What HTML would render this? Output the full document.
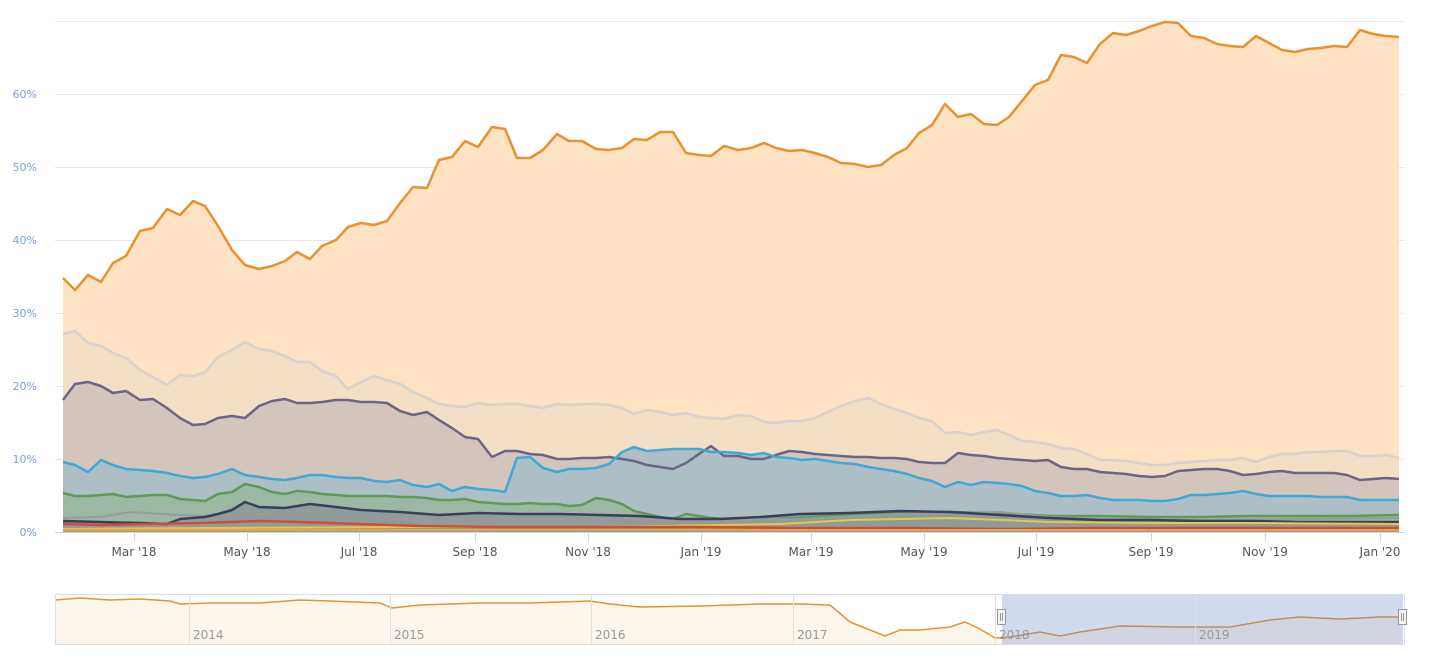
<!DOCTYPE html>
<html><head><meta charset="utf-8"><style>
html,body{margin:0;padding:0;background:#fff;}
svg{display:block;font-family:"DejaVu Sans","Liberation Sans",sans-serif;}
</style></head><body>
<svg width="1438" height="662" viewBox="0 0 1438 662" xmlns="http://www.w3.org/2000/svg">
<g stroke="#e6e6e6" stroke-width="1">
<line x1="55" y1="21.5" x2="1405" y2="21.5"/><line x1="55" y1="94.5" x2="1405" y2="94.5"/>
<line x1="55" y1="167.5" x2="1405" y2="167.5"/><line x1="55" y1="240.5" x2="1405" y2="240.5"/>
<line x1="55" y1="313.5" x2="1405" y2="313.5"/><line x1="55" y1="386.5" x2="1405" y2="386.5"/>
<line x1="55" y1="459.5" x2="1405" y2="459.5"/>
</g>
<g fill="#7aa2d6" font-size="11" text-anchor="end">
<text x="37" y="98">60%</text><text x="37" y="171">50%</text><text x="37" y="244">40%</text>
<text x="37" y="317">30%</text><text x="37" y="390">20%</text><text x="37" y="463">10%</text><text x="37" y="536">0%</text>
</g>
<polygon fill="#fde2c3" points="63,532 63,278 75,290 88,275 101,282 113,263 126,256 140,231 153,228 167,209 180,215 193,201 205,206 218,226 232,250 245,265 259,269 272,266 285,261 297,252 310,259 322,246 336,240 348,227 361,223 374,225 387,221 400,203 413,187 427,188 439,160 452,157 465,141 478,147 492,127 505,129 517,158 530,158 543,150 557,134 569,141 582,141 596,149 609,150 622,148 634,139 647,140 660,132 673,132 686,153 699,155 711,156 724,146 738,150 751,148 764,143 776,148 789,151 802,150 815,153 828,157 841,163 855,164 868,167 881,165 894,155 907,148 919,133 932,125 945,104 958,117 971,114 984,124 997,125 1009,117 1022,101 1035,85 1048,80 1061,55 1074,57 1087,63 1100,44 1113,33 1126,35 1139,31 1152,26 1165,22 1178,23 1191,36 1204,38 1217,44 1230,46 1243,47 1256,36 1269,43 1282,50 1295,52 1308,49 1321,48 1334,46 1347,47 1360,30 1373,34 1386,36 1399,37 1399,532"/>
<polygon fill="#f3dfc6" points="63,532 63,334 75,331 88,343 101,346 113,353 126,358 140,370 153,377 167,385 180,375 193,376 205,372 218,357 232,350 245,342 259,349 272,351 285,356 297,362 310,362 322,371 336,376 348,389 361,382 374,376 387,380 400,384 413,392 427,398 439,404 452,406 465,407 478,403 492,405 505,404 517,404 530,406 543,408 557,404 569,405 582,404 596,404 609,405 622,408 634,414 647,410 660,412 673,415 686,413 699,417 711,418 724,419 738,415 751,416 764,422 776,423 789,421 802,421 815,418 828,412 841,406 855,401 868,398 881,404 894,409 907,413 919,418 932,421 945,433 958,432 971,435 984,432 997,430 1009,435 1022,441 1035,442 1048,444 1061,448 1074,449 1087,454 1100,460 1113,460 1126,461 1139,463 1152,465 1165,465 1178,463 1191,462 1204,461 1217,460 1230,460 1243,458 1256,462 1269,457 1282,454 1295,454 1308,452 1321,452 1334,451 1347,451 1360,456 1373,456 1386,455 1399,458 1399,532"/>
<polygon fill="#d3c5bb" points="63,532 63,400 75,384 88,382 101,386 113,393 126,391 140,400 153,399 167,408 180,418 193,425 205,424 218,418 232,416 245,418 259,406 272,401 285,399 297,403 310,403 322,402 336,400 348,400 361,402 374,402 387,403 400,411 413,415 427,412 439,420 452,428 465,437 478,439 492,457 505,451 517,451 530,454 543,455 557,459 569,459 582,458 596,458 609,457 622,459 634,461 647,465 660,467 673,469 686,463 699,454 711,446 724,456 738,456 751,459 764,459 776,455 789,451 802,452 815,454 828,455 841,456 855,457 868,457 881,458 894,458 907,459 919,462 932,463 945,463 958,453 971,455 984,456 997,458 1009,459 1022,460 1035,461 1048,460 1061,467 1074,469 1087,469 1100,472 1113,473 1126,474 1139,476 1152,477 1165,476 1178,471 1191,470 1204,469 1217,469 1230,471 1243,475 1256,474 1269,472 1282,471 1295,473 1308,473 1321,473 1334,473 1347,475 1360,480 1373,479 1386,478 1399,479 1399,532"/>
<polygon fill="#adbec4" points="63,532 63,462 75,465 88,472 101,460 113,465 126,469 140,470 153,471 167,473 180,476 193,478 205,477 218,474 232,469 245,475 259,477 272,479 285,480 297,478 310,475 322,475 336,477 348,478 361,478 374,481 387,482 400,480 413,485 427,487 439,484 452,491 465,487 478,489 492,490 505,492 517,458 530,457 543,468 557,472 569,469 582,469 596,468 609,464 622,452 634,447 647,451 660,450 673,449 686,449 699,449 711,452 724,452 738,453 751,455 764,453 776,457 789,458 802,460 815,459 828,461 841,463 855,464 868,467 881,469 894,471 907,474 919,478 932,481 945,487 958,482 971,485 984,482 997,483 1009,484 1022,486 1035,491 1048,493 1061,496 1074,496 1087,495 1100,498 1113,500 1126,500 1139,500 1152,501 1165,501 1178,499 1191,495 1204,495 1217,494 1230,493 1243,491 1256,494 1269,496 1282,496 1295,496 1308,496 1321,497 1334,497 1347,497 1360,500 1373,500 1386,500 1399,500 1399,532"/>
<polygon fill="#9cb8a5" points="63,532 63,493 75,496 88,496 101,495 113,494 126,497 140,496 153,495 167,495 180,499 193,500 205,501 218,494 232,492 245,484 259,487 272,492 285,494 297,491 310,492 322,494 336,495 348,496 361,496 374,496 387,496 400,497 413,497 427,498 439,500 452,500 465,499 478,502 492,503 505,504 517,504 530,503 543,504 557,504 569,506 582,505 596,498 609,500 622,504 634,511 647,514 660,517 673,519 686,514 699,516 711,518 724,519 760,519 800,518 850,514 900,513 950,512 1000,513 1050,516 1100,516 1150,517 1200,517 1250,516 1300,516 1350,516 1399,515 1399,532"/>
<polygon fill="#8e9c9a" points="63,532 63,521 101,522 140,523 167,524 180,519 205,517 218,514 232,510 245,502 259,507 285,508 310,504 336,507 361,510 400,512 439,515 478,513 520,514 560,514 600,515 640,516 680,519 720,519 760,517 800,514 850,513 900,511 950,512 1000,515 1050,518 1100,520 1150,520 1200,521 1250,521 1300,522 1350,522 1399,522 1399,532"/>
<g fill="none" stroke-width="2.5" stroke-linejoin="round">
<polyline stroke="#e8922f" points="63,278 75,290 88,275 101,282 113,263 126,256 140,231 153,228 167,209 180,215 193,201 205,206 218,226 232,250 245,265 259,269 272,266 285,261 297,252 310,259 322,246 336,240 348,227 361,223 374,225 387,221 400,203 413,187 427,188 439,160 452,157 465,141 478,147 492,127 505,129 517,158 530,158 543,150 557,134 569,141 582,141 596,149 609,150 622,148 634,139 647,140 660,132 673,132 686,153 699,155 711,156 724,146 738,150 751,148 764,143 776,148 789,151 802,150 815,153 828,157 841,163 855,164 868,167 881,165 894,155 907,148 919,133 932,125 945,104 958,117 971,114 984,124 997,125 1009,117 1022,101 1035,85 1048,80 1061,55 1074,57 1087,63 1100,44 1113,33 1126,35 1139,31 1152,26 1165,22 1178,23 1191,36 1204,38 1217,44 1230,46 1243,47 1256,36 1269,43 1282,50 1295,52 1308,49 1321,48 1334,46 1347,47 1360,30 1373,34 1386,36 1399,37"/>
<polyline stroke="#d6d2cd" points="63,334 75,331 88,343 101,346 113,353 126,358 140,370 153,377 167,385 180,375 193,376 205,372 218,357 232,350 245,342 259,349 272,351 285,356 297,362 310,362 322,371 336,376 348,389 361,382 374,376 387,380 400,384 413,392 427,398 439,404 452,406 465,407 478,403 492,405 505,404 517,404 530,406 543,408 557,404 569,405 582,404 596,404 609,405 622,408 634,414 647,410 660,412 673,415 686,413 699,417 711,418 724,419 738,415 751,416 764,422 776,423 789,421 802,421 815,418 828,412 841,406 855,401 868,398 881,404 894,409 907,413 919,418 932,421 945,433 958,432 971,435 984,432 997,430 1009,435 1022,441 1035,442 1048,444 1061,448 1074,449 1087,454 1100,460 1113,460 1126,461 1139,463 1152,465 1165,465 1178,463 1191,462 1204,461 1217,460 1230,460 1243,458 1256,462 1269,457 1282,454 1295,454 1308,452 1321,452 1334,451 1347,451 1360,456 1373,456 1386,455 1399,458"/>
<polyline stroke="#6b6587" points="63,400 75,384 88,382 101,386 113,393 126,391 140,400 153,399 167,408 180,418 193,425 205,424 218,418 232,416 245,418 259,406 272,401 285,399 297,403 310,403 322,402 336,400 348,400 361,402 374,402 387,403 400,411 413,415 427,412 439,420 452,428 465,437 478,439 492,457 505,451 517,451 530,454 543,455 557,459 569,459 582,458 596,458 609,457 622,459 634,461 647,465 660,467 673,469 686,463 699,454 711,446 724,456 738,456 751,459 764,459 776,455 789,451 802,452 815,454 828,455 841,456 855,457 868,457 881,458 894,458 907,459 919,462 932,463 945,463 958,453 971,455 984,456 997,458 1009,459 1022,460 1035,461 1048,460 1061,467 1074,469 1087,469 1100,472 1113,473 1126,474 1139,476 1152,477 1165,476 1178,471 1191,470 1204,469 1217,469 1230,471 1243,475 1256,474 1269,472 1282,471 1295,473 1308,473 1321,473 1334,473 1347,475 1360,480 1373,479 1386,478 1399,479"/>
<polyline stroke="#3ea9d6" points="63,462 75,465 88,472 101,460 113,465 126,469 140,470 153,471 167,473 180,476 193,478 205,477 218,474 232,469 245,475 259,477 272,479 285,480 297,478 310,475 322,475 336,477 348,478 361,478 374,481 387,482 400,480 413,485 427,487 439,484 452,491 465,487 478,489 492,490 505,492 517,458 530,457 543,468 557,472 569,469 582,469 596,468 609,464 622,452 634,447 647,451 660,450 673,449 686,449 699,449 711,452 724,452 738,453 751,455 764,453 776,457 789,458 802,460 815,459 828,461 841,463 855,464 868,467 881,469 894,471 907,474 919,478 932,481 945,487 958,482 971,485 984,482 997,483 1009,484 1022,486 1035,491 1048,493 1061,496 1074,496 1087,495 1100,498 1113,500 1126,500 1139,500 1152,501 1165,501 1178,499 1191,495 1204,495 1217,494 1230,493 1243,491 1256,494 1269,496 1282,496 1295,496 1308,496 1321,497 1334,497 1347,497 1360,500 1373,500 1386,500 1399,500"/>
<polyline stroke="#5e9a5a" points="63,493 75,496 88,496 101,495 113,494 126,497 140,496 153,495 167,495 180,499 193,500 205,501 218,494 232,492 245,484 259,487 272,492 285,494 297,491 310,492 322,494 336,495 348,496 361,496 374,496 387,496 400,497 413,497 427,498 439,500 452,500 465,499 478,502 492,503 505,504 517,504 530,503 543,504 557,504 569,506 582,505 596,498 609,500 622,504 634,511 647,514 660,517 673,519 686,514 699,516 711,518 724,519 760,519 800,518 850,514 900,513 950,512 1000,513 1050,516 1100,516 1150,517 1200,517 1250,516 1300,516 1350,516 1399,515"/>
<polyline stroke="#9a9a9a" stroke-width="2" points="63,518 100,517 130,512 160,514 200,516 260,514 320,516 400,518 500,519 600,519 700,520 800,519 900,514 1000,512 1050,517 1100,519 1200,520 1300,519 1399,518"/>
<polyline stroke="#3a3f5c" points="63,521 101,522 140,523 167,524 180,519 205,517 218,514 232,510 245,502 259,507 285,508 310,504 336,507 361,510 400,512 439,515 478,513 520,514 560,514 600,515 640,516 680,519 720,519 760,517 800,514 850,513 900,511 950,512 1000,515 1050,518 1100,520 1150,520 1200,521 1250,521 1300,522 1350,522 1399,522"/>
<polyline stroke="#e3c84a" stroke-width="2" points="63,529 200,528 400,527 600,527 780,524 850,520 950,518 1050,522 1150,523 1250,523 1399,524"/>
<polyline stroke="#d24c3e" points="63,524 100,525 200,523 260,521 300,522 360,524 420,526 500,527 600,527 700,527 800,528 900,528 1000,529 1100,528 1200,528 1300,528 1399,528"/>
<polyline stroke="#e8a33a" stroke-width="2" points="63,530 400,530 800,530 1399,530"/>
</g>
<line x1="55" y1="532.5" x2="1405" y2="532.5" stroke="#ccd6eb"/>
<g stroke="#ccd6eb"><line x1="134.5" y1="533" x2="134.5" y2="542"/><line x1="247.5" y1="533" x2="247.5" y2="542"/><line x1="359.5" y1="533" x2="359.5" y2="542"/><line x1="475.5" y1="533" x2="475.5" y2="542"/><line x1="588.5" y1="533" x2="588.5" y2="542"/><line x1="701.5" y1="533" x2="701.5" y2="542"/><line x1="811.5" y1="533" x2="811.5" y2="542"/><line x1="924.5" y1="533" x2="924.5" y2="542"/><line x1="1036.5" y1="533" x2="1036.5" y2="542"/><line x1="1151.5" y1="533" x2="1151.5" y2="542"/><line x1="1265.5" y1="533" x2="1265.5" y2="542"/><line x1="1380.5" y1="533" x2="1380.5" y2="542"/></g>
<g fill="#555" font-size="12" text-anchor="middle">
<text x="134" y="556">Mar '18</text><text x="247" y="556">May '18</text><text x="359" y="556">Jul '18</text><text x="475" y="556">Sep '18</text><text x="588" y="556">Nov '18</text><text x="701" y="556">Jan '19</text><text x="811" y="556">Mar '19</text><text x="924" y="556">May '19</text><text x="1036" y="556">Jul '19</text><text x="1151" y="556">Sep '19</text><text x="1265" y="556">Nov '19</text><text x="1380" y="556">Jan '20</text>
</g>
<rect x="55" y="594" width="1350" height="50" fill="#fff"/>
<polygon fill="#fdf6ec" points="55,644 55,600 80,598 110,600 140,599 170,601 180,604 210,603 260,603 300,600 330,601 380,603 392,608 420,605 480,603 530,603 590,601 610,604 640,607 700,606 760,604 800,604 830,605 850,622 870,630 885,636 900,630 920,630 950,627 965,622 980,629 995,638 1010,637 1040,632 1060,636 1080,632 1120,626 1180,627 1230,627 1270,620 1300,617 1340,619 1380,617 1400,617 1400,644"/>
<polyline fill="none" stroke="#e8922f" stroke-width="1.5" points="55,600 80,598 110,600 140,599 170,601 180,604 210,603 260,603 300,600 330,601 380,603 392,608 420,605 480,603 530,603 590,601 610,604 640,607 700,606 760,604 800,604 830,605 850,622 870,630 885,636 900,630 920,630 950,627 965,622 980,629 995,638 1010,637 1040,632 1060,636 1080,632 1120,626 1180,627 1230,627 1270,620 1300,617 1340,619 1380,617 1400,617"/>
<rect x="1002" y="594" width="401" height="50" fill="rgba(102,133,194,0.3)"/>
<g stroke="#e0e0e0"><line x1="189.5" y1="594" x2="189.5" y2="644"/><line x1="390.5" y1="594" x2="390.5" y2="644"/><line x1="591.5" y1="594" x2="591.5" y2="644"/><line x1="793.5" y1="594" x2="793.5" y2="644"/><line x1="995.5" y1="594" x2="995.5" y2="644"/><line x1="1195.5" y1="594" x2="1195.5" y2="644"/></g>
<rect x="55.5" y="594.5" width="1349" height="50" fill="none" stroke="#ddd"/>
<g fill="#999" font-size="12"><text x="193" y="639">2014</text><text x="394" y="639">2015</text><text x="595" y="639">2016</text><text x="797" y="639">2017</text><text x="999" y="639">2018</text><text x="1199" y="639">2019</text></g>
<g fill="#f2f2f2" stroke="#999"><rect x="997.5" y="609.5" width="8" height="15"/><rect x="1398.5" y="609.5" width="8" height="15"/></g>
<g stroke="#999"><line x1="1000.5" y1="613" x2="1000.5" y2="621"/><line x1="1002.5" y1="613" x2="1002.5" y2="621"/><line x1="1401.5" y1="613" x2="1401.5" y2="621"/><line x1="1403.5" y1="613" x2="1403.5" y2="621"/></g>
</svg>
</body></html>
